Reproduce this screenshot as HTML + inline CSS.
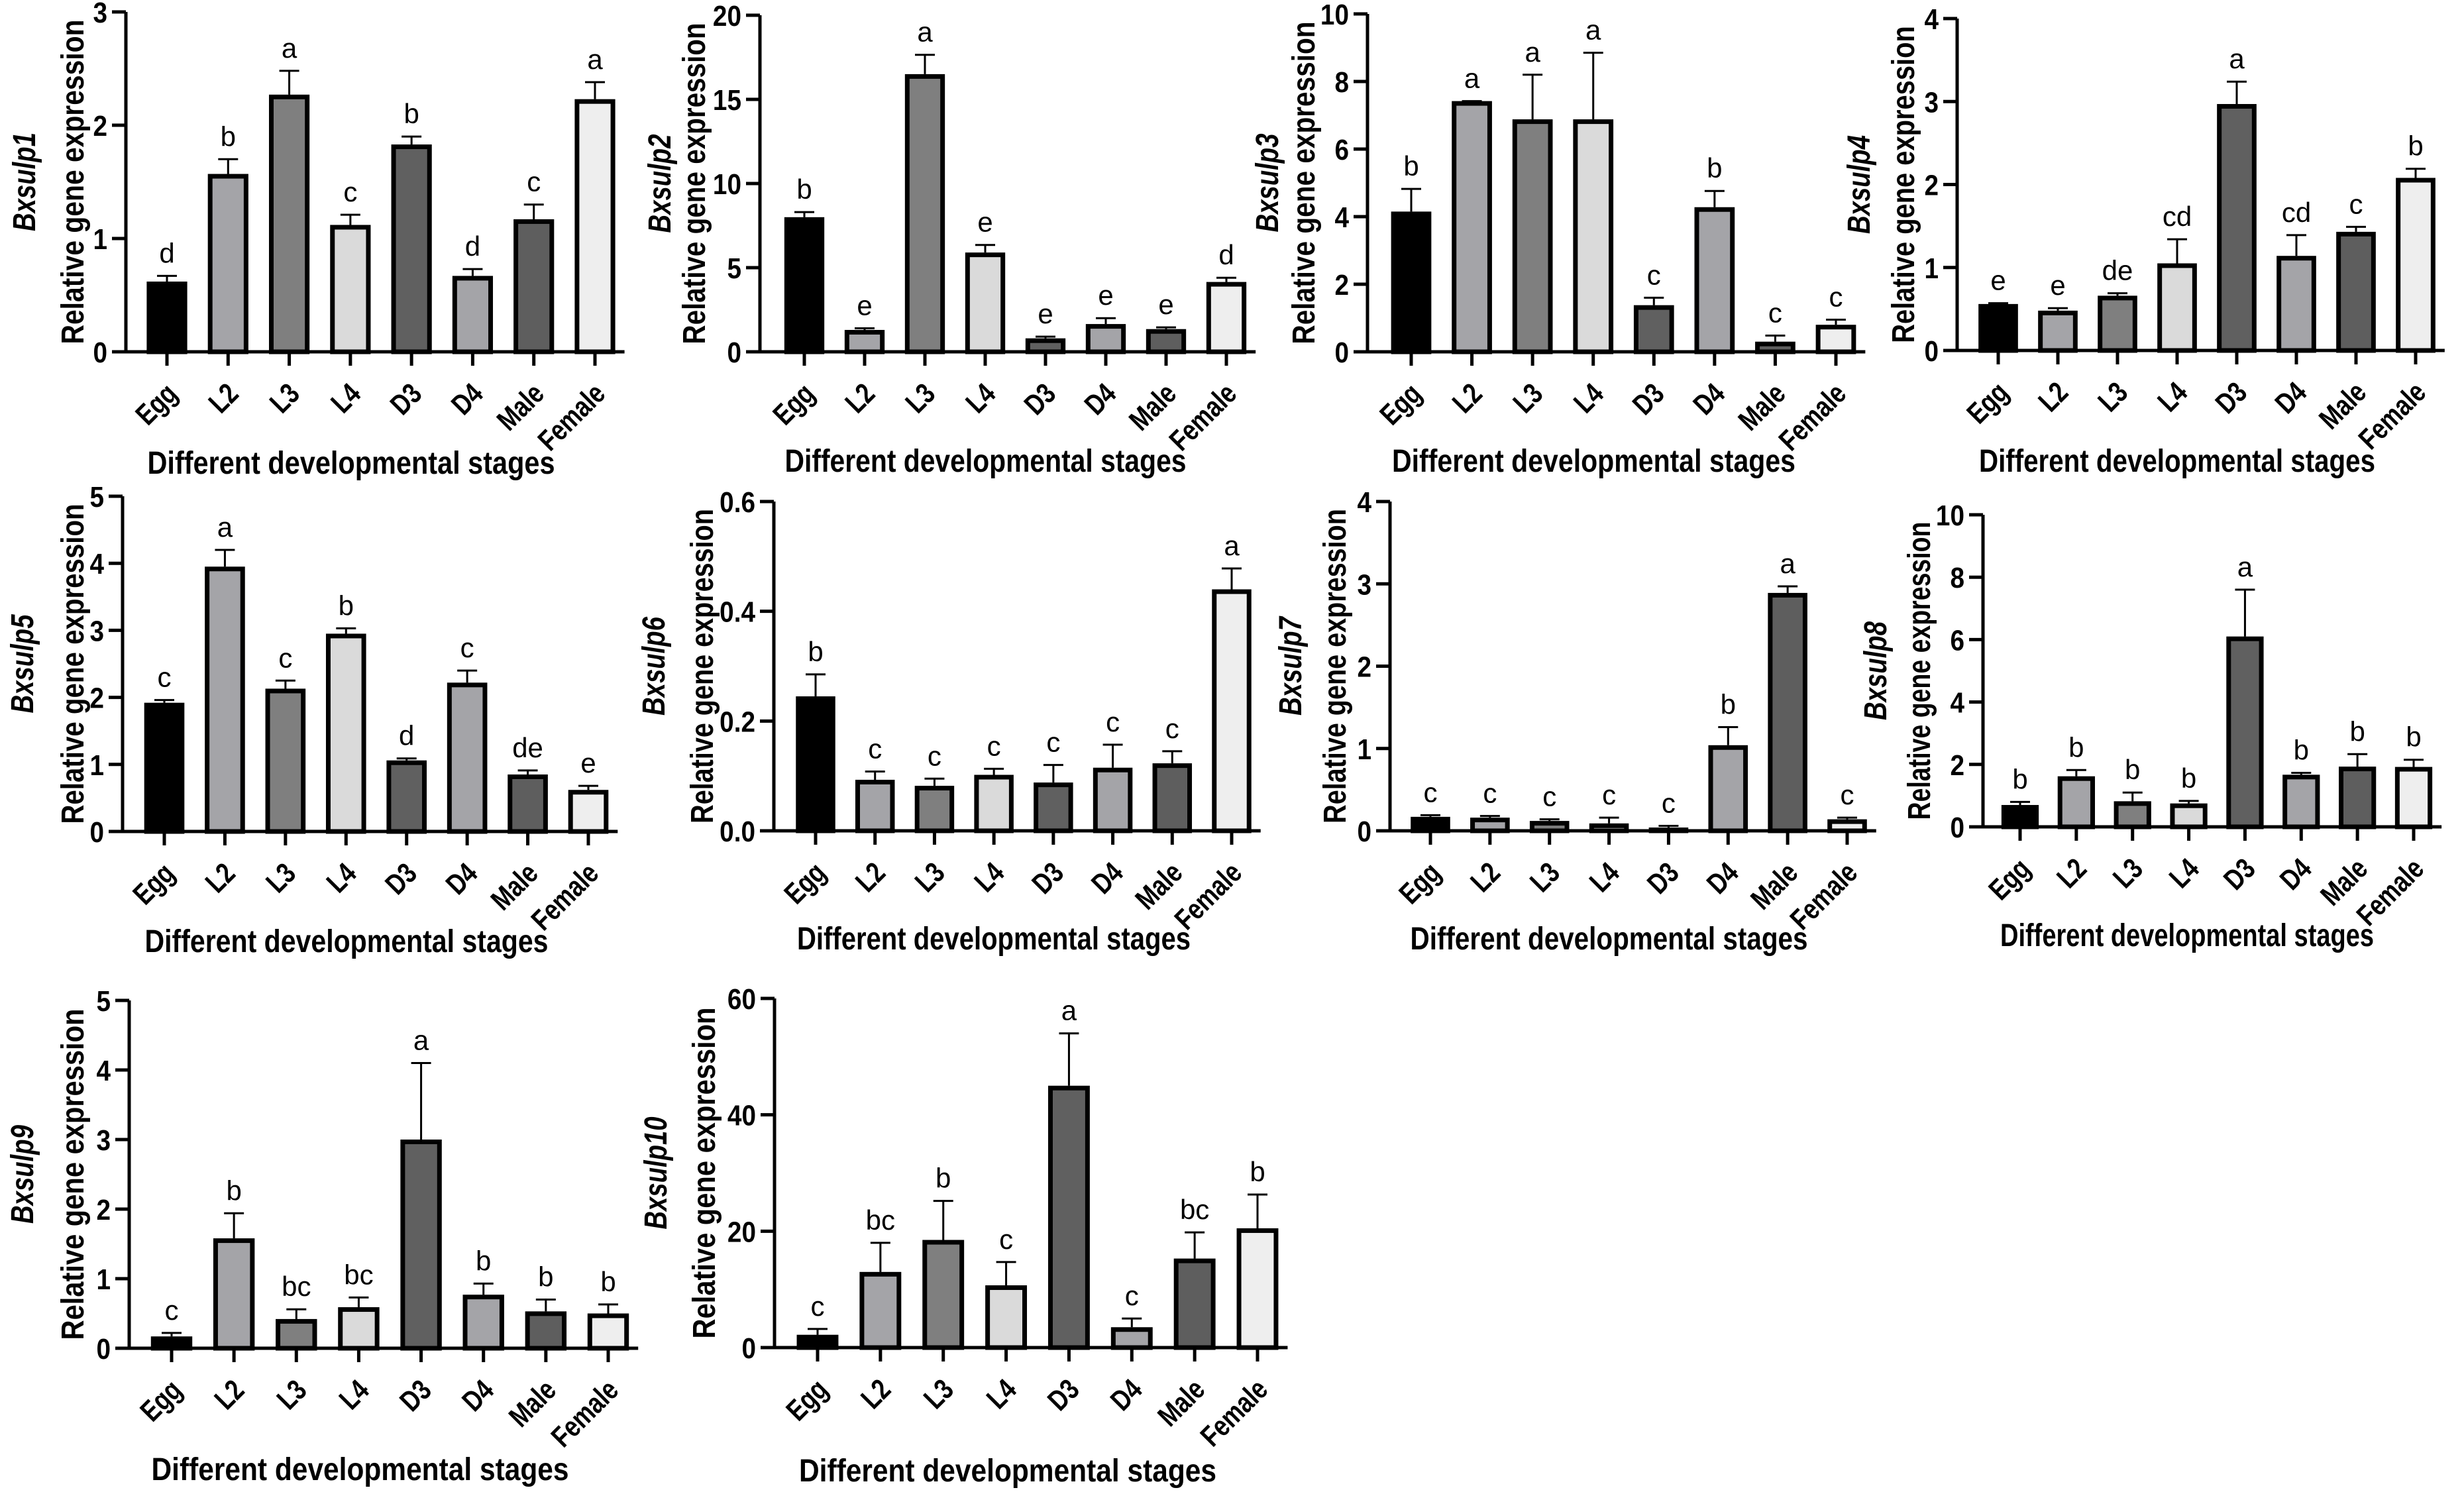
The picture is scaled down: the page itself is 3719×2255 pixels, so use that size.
<!DOCTYPE html>
<html><head><meta charset="utf-8"><style>
html,body{margin:0;padding:0;background:#fff;}
svg{display:block;}
text{font-family:"Liberation Sans",Arial,sans-serif;}
</style></head><body>
<svg id="fig" width="3719" height="2255" viewBox="0 0 3719 2255" xmlns="http://www.w3.org/2000/svg"></svg>
<script>
const categories = ["Egg","L2","L3","L4","D3","D4","Male","Female"];
const barColors = ["#000000","#a4a4a8","#7f7f7f","#dadada","#606060","#a4a4a8","#5e5e5e","#eeeeee"];
const genes = ["Bxsulp1","Bxsulp2","Bxsulp3","Bxsulp4","Bxsulp5","Bxsulp6","Bxsulp7","Bxsulp8","Bxsulp9","Bxsulp10"];
const v1 = [0.62,1.57,2.27,1.12,1.83,0.67,1.17,2.23];
const e1 = [0.05,0.13,0.21,0.09,0.07,0.06,0.13,0.15];
const l1 = ["d","b","a","c","b","d","c","a"];
const v2 = [8.0,1.3,16.5,5.9,0.8,1.65,1.35,4.15];
const e2 = [0.3,0.1,1.15,0.45,0.1,0.35,0.1,0.25];
const l2 = ["b","e","a","e","e","e","e","d"];
const v3 = [4.15,7.42,6.88,6.88,1.38,4.28,0.3,0.8];
const e3 = [0.67,0,1.32,1.97,0.22,0.48,0.18,0.15];
const l3 = ["b","a","a","a","c","b","c","c"];
const v4 = [0.56,0.48,0.66,1.05,2.97,1.14,1.43,2.08];
const e4 = [0.01,0.03,0.03,0.29,0.27,0.25,0.06,0.11];
const l4 = ["e","e","de","cd","a","cd","c","b"];
const v5 = [1.92,3.95,2.13,2.95,1.06,2.22,0.85,0.62];
const e5 = [0.04,0.25,0.12,0.08,0.03,0.18,0.06,0.06];
const l5 = ["c","a","c","b","d","c","de","e"];
const v6 = [0.245,0.093,0.082,0.102,0.088,0.115,0.123,0.44];
const e6 = [0.04,0.015,0.013,0.011,0.032,0.042,0.022,0.038];
const l6 = ["b","c","c","c","c","c","c","a"];
const v7 = [0.17,0.16,0.12,0.09,0.04,1.04,2.89,0.14];
const e7 = [0.02,0.02,0.02,0.07,0.02,0.22,0.08,0.02];
const l7 = ["c","c","c","c","c","b","a","c"];
const v8 = [0.7,1.62,0.82,0.75,6.1,1.67,1.93,1.92];
const e8 = [0.1,0.2,0.28,0.08,1.5,0.06,0.4,0.23];
const l8 = ["b","b","b","b","a","b","b","b"];
const v9 = [0.17,1.58,0.42,0.59,3.0,0.77,0.53,0.5];
const e9 = [0.05,0.36,0.14,0.14,1.1,0.16,0.17,0.13];
const l9 = ["c","b","bc","bc","a","b","b","b"];
const v10 = [2.2,13.0,18.5,10.7,45.0,3.5,15.3,20.5];
const e10 = [1.0,5.0,6.7,4.0,9.0,1.5,4.5,5.8];
const l10 = ["c","bc","b","c","a","c","bc","b"];
const values = [v1,v2,v3,v4,v5,v6,v7,v8,v9,v10];
const errors = [e1,e2,e3,e4,e5,e6,e7,e8,e9,e10];
const letters = [l1,l2,l3,l4,l5,l6,l7,l8,l9,l10];
const yMax = [3,20,10,4,5,0.6,4,10,5,60];
const yStep = [1,5,2,1,1,0.2,1,2,1,20];
const yDecimals = [0,0,0,0,0,1,0,0,0,0];

const layout = [
 {ax:190,top:18,zero:531,x0:252,x7:898,rel:109,gene:36,tb:715,tw:615},
 {ax:1147,top:23,zero:531,x0:1214,x7:1851,rel:1047,gene:995,tb:712,tw:606},
 {ax:2064,top:21,zero:531,x0:2130,x7:2771,rel:1967,gene:1912,tb:712,tw:609},
 {ax:2954,top:28,zero:529,x0:3016,x7:3646,rel:2872,gene:2805,tb:712,tw:598},
 {ax:185,top:749,zero:1255,x0:248,x7:888,rel:109,gene:33,tb:1437,tw:609},
 {ax:1168,top:757,zero:1254,x0:1231,x7:1859,rel:1059,gene:986,tb:1433,tw:594},
 {ax:2098,top:757,zero:1254,x0:2159,x7:2788,rel:2014,gene:1947,tb:1433,tw:600},
 {ax:2993,top:777,zero:1248,x0:3049,x7:3643,rel:2896,gene:2830,tb:1428,tw:564},
 {ax:195,top:1510,zero:2035,x0:259,x7:918,rel:109,gene:33,tb:2234,tw:630},
 {ax:1169,top:1507,zero:2034,x0:1234,x7:1898,rel:1062,gene:989,tb:2236,tw:630}
];

const NS = "http://www.w3.org/2000/svg";
const svg = document.getElementById("fig");
function mk(tag, attrs, parent){
  const el = document.createElementNS(NS, tag);
  for (const k in attrs) el.setAttribute(k, attrs[k]);
  (parent||svg).appendChild(el);
  return el;
}

for (let p = 0; p < 10; p++) {
  const L = layout[p];
  const g = mk("g", {});
  
  
  const sp = (L.x7 - L.x0) / 7;
  const bw = 61 * sp / 92;
  const yScale = v => L.zero - (v / yMax[p]) * (L.zero - L.top);
  const xScale = i => L.x0 + i * sp;
  const right = L.x7 + bw / 2 + 14;

  for (let i = 0; i < 8; i++) {
    const cx = xScale(i), yv = yScale(values[p][i]);
    const eTop = yScale(values[p][i] + errors[p][i]);
    const eb = mk("g", {}, g);
    
    
    mk("line", {x1:cx, y1:yv, x2:cx, y2:eTop, stroke:"#000", "stroke-width":3}, eb);
    mk("line", {x1:cx-15, y1:eTop, x2:cx+15, y2:eTop, stroke:"#000", "stroke-width":3}, eb);
    const h = L.zero - yv;
    const r = mk("rect", {x:cx-bw/2+3.5, y:yv+3.5, width:bw-7, height:Math.max(h-3.5,0), fill:barColors[i], stroke:"#000", "stroke-width":7}, g);
    
    
    const t = mk("text", {x:cx, y:eTop-20, "text-anchor":"middle", "font-size":42, fill:"#000"}, g);
    t.textContent = letters[p][i];
    
    
    mk("line", {x1:cx, y1:L.zero, x2:cx, y2:L.zero+21, stroke:"#000", "stroke-width":5}, g);
    const tl = mk("text", {x:0, y:0, "text-anchor":"end", "font-size":44, "font-weight":"bold", fill:"#000",
      transform:"translate(" + (cx+18) + "," + (L.zero+66) + ") rotate(-45) scale(0.8,1)"}, g);
    tl.textContent = categories[i];
    
    
  }
  const ya = mk("line", {x1:L.ax, y1:L.top, x2:L.ax, y2:L.zero+2.5, stroke:"#000", "stroke-width":5}, g);
  
  
  const xa = mk("line", {x1:L.ax-2.5, y1:L.zero, x2:right, y2:L.zero, stroke:"#000", "stroke-width":5}, g);
  
  
  const n = Math.round(yMax[p] / yStep[p]);
  for (let k = 0; k <= n; k++) {
    const v = k * yStep[p];
    const y = yScale(v);
    mk("line", {x1:L.ax-21, y1:y, x2:L.ax, y2:y, stroke:"#000", "stroke-width":5}, g);
    const yl = mk("text", {x:0, y:0, "text-anchor":"end", "font-size":44, "font-weight":"bold", fill:"#000",
      transform:"translate(" + (L.ax-28) + "," + (y+16) + ") scale(0.88,1)"}, g);
    yl.textContent = v.toFixed(yDecimals[p]);
    
    
  }
  const cy = (L.top + L.zero) / 2;
  const relLen = 490 * (L.zero - L.top) / 513;
  const rl = mk("text", {x:0, y:0, "text-anchor":"middle", "font-size":48, "font-weight":"bold", fill:"#000",
    textLength:Math.min(relLen, 500), lengthAdjust:"spacingAndGlyphs",
    transform:"translate(" + (L.rel+17) + "," + cy + ") rotate(-90)"}, g);
  rl.textContent = "Relative gene expression";
  
  
  const gl = mk("text", {x:0, y:0, "text-anchor":"middle", "font-size":48, "font-weight":"bold", "font-style":"italic", fill:"#000",
    textLength: genes[p].length > 7 ? 170 : 149, lengthAdjust:"spacingAndGlyphs",
    transform:"translate(" + (L.gene+17) + "," + cy + ") rotate(-90)"}, g);
  gl.textContent = genes[p];
  
  
  const xt = mk("text", {x:(L.x0+L.x7)/2-45, y:L.tb, "text-anchor":"middle", "font-size":48, "font-weight":"bold", fill:"#000",
    textLength:L.tw, lengthAdjust:"spacingAndGlyphs"}, g);
  xt.textContent = "Different developmental stages";
  
  
}
</script>
</body></html>
